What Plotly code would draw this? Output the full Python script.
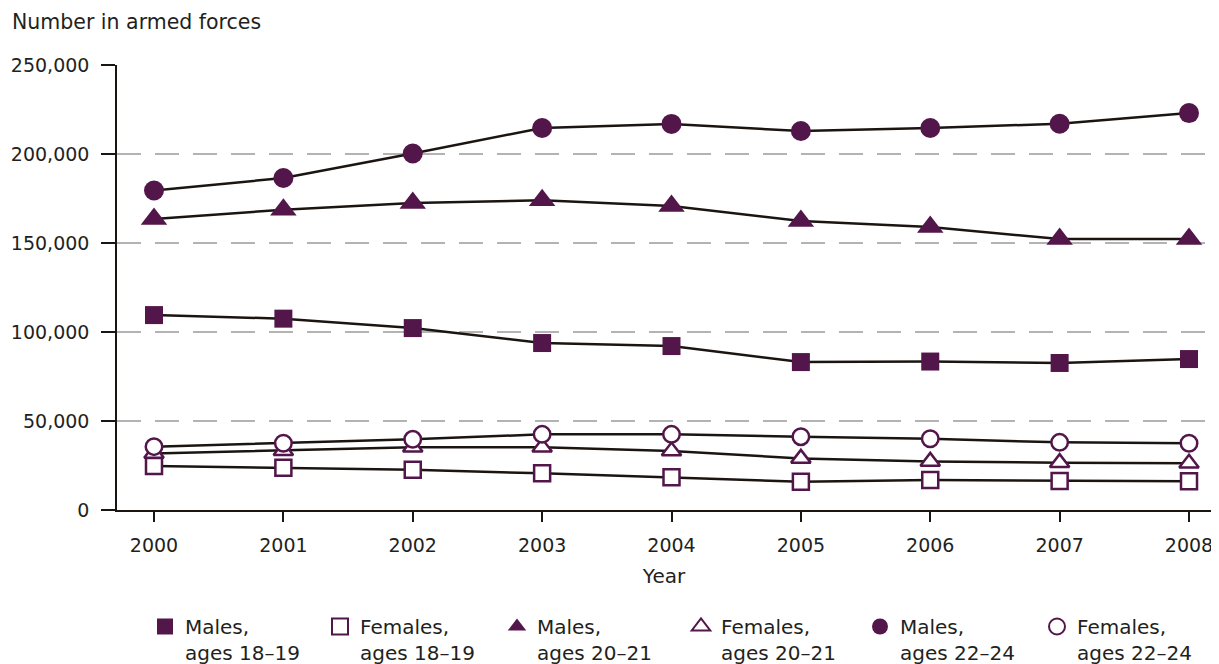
import plotly.graph_objects as go

# --- data ---
years = [2000, 2001, 2002, 2003, 2004, 2005, 2006, 2007, 2008]

males_18_19 = [109500, 107500, 102200, 93800, 92100, 83100, 83400, 82600, 84800]
females_18_19 = [24700, 23800, 22600, 20600, 18400, 15900, 16900, 16300, 16100]
males_20_21 = [163500, 168700, 172500, 174000, 170800, 162400, 159000, 152200, 152200]
females_20_21 = [31800, 33300, 35200, 35200, 33100, 29000, 27300, 26600, 26200]
males_22_24 = [179500, 186500, 200300, 214600, 216900, 212900, 214600, 217000, 223000]
females_22_24 = [35600, 37500, 39700, 42500, 42500, 41200, 40000, 38000, 37500]

y_ticks = [0, 50000, 100000, 150000, 200000, 250000]
y_tick_labels = ["0", "50,000", "100,000", "150,000", "200,000", "250,000"]

PURPLE = "#53164a"
LINE = "#1b1512"
TEXT = "#231f20"
FONT = "DejaVu Sans"

# the page body has an 8px margin, so the figure is drawn 8px in from the corner
OFF = 8
W, H = 1219 - OFF, 664 - OFF
# plot area edges in screen pixels
X0, X1, Y0, Y1 = 117, 1211, 65, 510
L, R, T, B = X0 - OFF, W - (X1 - OFF), Y0 - OFF, H - (Y1 - OFF)
PW, PH = W - L - R, H - T - B

series = [
    ("Males,<br>ages 18\u201319", males_18_19, "square", True, 18),
    ("Females,<br>ages 18\u201319", females_18_19, "square", False, 16),
    ("Males,<br>ages 20\u201321", males_20_21, "triangle-up", True, 23),
    ("Females,<br>ages 20\u201321", females_20_21, "triangle-up", False, 17),
    ("Males,<br>ages 22\u201324", males_22_24, "circle", True, 20),
    ("Females,<br>ages 22\u201324", females_22_24, "circle", False, 16.5),
]
# screen x of each legend symbol centre
legend_px = [164, 339, 516, 700, 879, 1056]

fig = go.Figure()

# lines with markers (no legend entries, those come separately without the line)
for name, vals, sym, filled, size in series:
    fig.add_trace(go.Scatter(
        x=years, y=vals, mode="lines+markers", showlegend=False,
        line=dict(color=LINE, width=2.5),
        marker=dict(symbol=sym, size=size,
                    color=PURPLE if filled else "white",
                    line=dict(color=PURPLE, width=0 if filled else 2.5)),
        hoverinfo="x+y", name=name.replace("<br>", " ")))

# one legend per entry so each can be placed like the original
legends = {}
for i, (name, vals, sym, filled, size) in enumerate(series):
    key = "legend" if i == 0 else f"legend{i + 1}"
    fig.add_trace(go.Scatter(
        x=[None], y=[None], mode="markers", name=name, legend=key,
        marker=dict(symbol=sym, size=16,
                    color=PURPLE if filled else "white",
                    line=dict(color=PURPLE, width=0 if filled else 2))))
    legends[key] = dict(
        x=(legend_px[i] - 27 - L) / PW, y=-(599 - (T + PH)) / PH,
        xanchor="left", yanchor="top", valign="top",
        bgcolor="rgba(0,0,0,0)",
        font=dict(family=FONT, size=20, color=TEXT))

fig.update_layout(
    width=W, height=H,
    margin=dict(l=L, r=R, t=T, b=B, autoexpand=False),
    plot_bgcolor="white", paper_bgcolor="white",
    font=dict(family=FONT, size=19, color=TEXT),
    title=dict(text="Number in armed forces", xref="container", yref="container",
               x=4 / W, y=1 - 14 / H, xanchor="left", yanchor="middle",
               font=dict(family=FONT, size=20.5, color=TEXT)),
    showlegend=True,
    **legends,
)

fig.update_xaxes(
    range=[1999.714, 2008.17], tickvals=years, ticktext=[str(y) for y in years],
    showgrid=False, zeroline=False, automargin=False,
    showline=True, linecolor=LINE, linewidth=1.5,
    ticks="outside", ticklen=10, tickcolor=LINE, tickwidth=1.5,
    ticklabelstandoff=7,
    title=dict(text="Year", standoff=14, font=dict(family=FONT, size=20, color=TEXT)),
)

fig.update_yaxes(
    range=[0, 250000], tickvals=y_ticks, ticktext=y_tick_labels,
    showgrid=True, gridcolor="#b3b3b3", gridwidth=1.5, griddash="24px,14px",
    zeroline=False, automargin=False,
    showline=True, linecolor=LINE, linewidth=1.5,
    ticks="outside", ticklen=14, tickcolor=LINE, tickwidth=1.5,
    ticklabelstandoff=8,
)

fig.write_html("out.html")
